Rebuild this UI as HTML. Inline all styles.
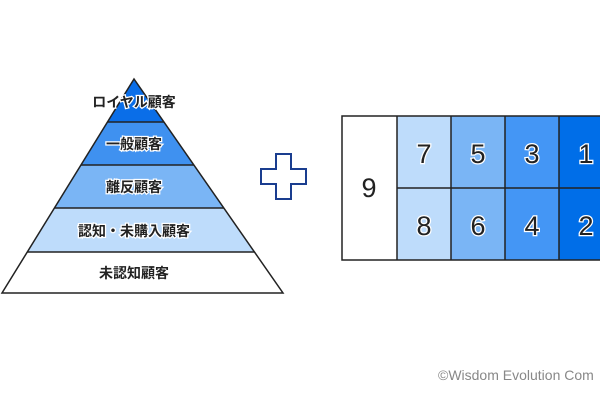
<!DOCTYPE html>
<html><head><meta charset="utf-8"><style>
html,body{margin:0;padding:0;background:#fff;width:600px;height:400px;overflow:hidden}
text{font-family:"Liberation Sans","Noto Sans CJK JP",sans-serif}
.jp{font-family:"Noto Sans CJK JP",sans-serif}
</style></head><body>
<svg width="600" height="400" xmlns="http://www.w3.org/2000/svg">
<defs><clipPath id="tri"><polygon points="134,79 2,293 283,293"/></clipPath></defs>
<g clip-path="url(#tri)">
<rect x="0" y="70" width="300" height="52" fill="#0a6ee8"/>
<rect x="0" y="122" width="300" height="43" fill="#3f91f0"/>
<rect x="0" y="165" width="300" height="43" fill="#7ab5f5"/>
<rect x="0" y="208" width="300" height="44" fill="#bedcfb"/>
<rect x="0" y="252" width="300" height="45" fill="#fff"/>
<g stroke="#222" stroke-width="1.5">
<line x1="0" y1="122" x2="300" y2="122"/><line x1="0" y1="165" x2="300" y2="165"/>
<line x1="0" y1="208" x2="300" y2="208"/><line x1="0" y1="252" x2="300" y2="252"/>
</g></g>
<polygon points="134,79 2,293 283,293" fill="none" stroke="#222" stroke-width="1.5"/>
<g class="jp" font-size="14" font-weight="bold" fill="#222" text-anchor="middle" stroke="#fff" stroke-width="2.5" paint-order="stroke">
<text x="134" y="107">ロイヤル顧客</text>
<text x="134" y="149">一般顧客</text>
<text x="134" y="192">離反顧客</text>
<text x="134" y="236">認知・未購入顧客</text>
<text x="134" y="278">未認知顧客</text>
</g>
<path d="M276,154 H291 V169 H306 V184 H291 V199 H276 V184 H261 V169 H276 Z" fill="#fff" stroke="#1a3d8f" stroke-width="2"/>
<rect x="342" y="116" width="55" height="144" fill="#fff"/>
<rect x="397" y="116" width="54" height="144" fill="#bedcfb"/>
<rect x="451" y="116" width="54" height="144" fill="#7ab5f5"/>
<rect x="505" y="116" width="54" height="144" fill="#4496f5"/>
<rect x="559" y="116" width="45" height="144" fill="#006ee8"/>
<g stroke="#222" stroke-width="1.5" fill="none">
<rect x="342" y="116" width="270" height="144"/>
<line x1="397" y1="116" x2="397" y2="260"/><line x1="451" y1="116" x2="451" y2="260"/>
<line x1="505" y1="116" x2="505" y2="260"/><line x1="559" y1="116" x2="559" y2="260"/>
<line x1="397" y1="188" x2="604" y2="188"/>
</g>
<g font-size="27" fill="#222" text-anchor="middle" stroke="#fff" stroke-width="2.5" paint-order="stroke">
<text x="369" y="197">9</text>
<text x="424" y="163">7</text><text x="478" y="163">5</text><text x="532" y="163">3</text><text x="586" y="163">1</text>
<text x="424" y="235">8</text><text x="478" y="235">6</text><text x="532" y="235">4</text><text x="586" y="235">2</text>
</g>
<text x="438" y="380" font-size="14" fill="#888">©Wisdom Evolution Com</text>
</svg>
</body></html>
